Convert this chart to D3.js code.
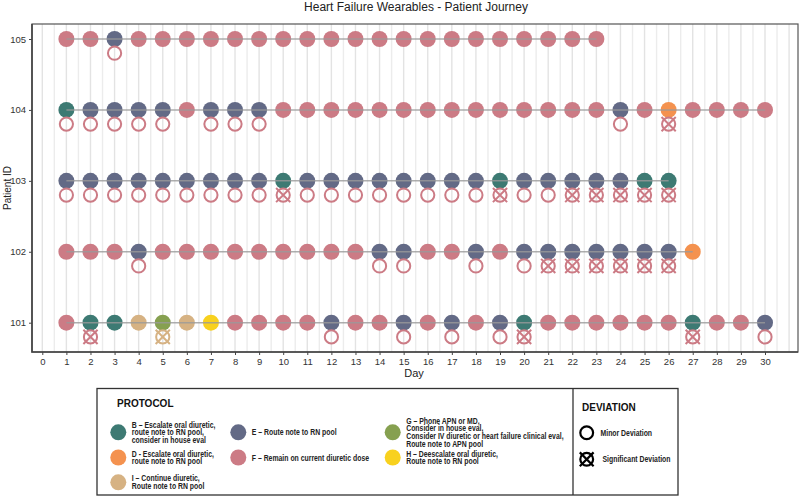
<!DOCTYPE html>
<html>
<head>
<meta charset="utf-8">
<title>Heart Failure Wearables - Patient Journey</title>
<script src="https://cdn.jsdelivr.net/npm/d3@7"></script>
<style>
	body, html{
		margin: 0;
		padding: 0;
		background: #fff;
	}
	svg text{
		font-family: "Liberation Sans", Arial, sans-serif;
	}
	.narrow{
		font-weight: bold;
		font-size: 8.3px;
		fill: #222;
	}
</style>
</head>
<body>
<svg id="chart" width="800" height="496"></svg>
<script>
// patients and days
var patients = [101, 102, 103, 104, 105];
var dayTicks = d3.range(0, 31);

// protocol per day, starting at day 1
var protocol101 = ["F","B","B","I","G","I","H","F","F","F","F","E","F","F","E","F","E","F","E","B","F","F","F","F","F","F","B","F","F","E"];
var protocol102 = ["F","F","F","E","F","F","F","F","F","F","F","F","F","E","E","F","F","E","F","E","E","E","E","E","E","E","D"];
var protocol103 = ["E","E","E","E","E","E","E","E","E","B","E","E","E","E","E","E","E","E","B","E","E","E","E","E","B","B"];
var protocol104 = ["B","E","E","E","E","F","E","E","E","F","F","F","F","F","F","F","F","F","F","F","F","F","F","E","F","D","F","F","F","F"];
var protocol105 = ["F","F","E","F","F","F","F","F","F","F","F","F","F","F","F","F","F","F","F","F","F","F","F"];

// deviation per day: o = minor, x = significant, second letter = colour group
var deviation101 = ["","xF","","","xI","","","","","","","oF","","","oF","","oF","","oF","xF","","","","","","","xF","","","oF"];
var deviation102 = ["","","","oF","","","","","","","","","","oF","oF","","","oF","","oF","xF","xF","xF","xF","xF","xF",""];
var deviation103 = ["oF","oF","oF","oF","oF","oF","oF","oF","oF","xF","oF","oF","oF","oF","oF","oF","oF","oF","xF","oF","oF","xF","xF","xF","xF","xF"];
var deviation104 = ["oF","oF","oF","oF","oF","","oF","oF","oF","","","","","","","","","","","","","","","oF","","xF","","","",""];
var deviation105 = ["","","oF","","","","","","","","","","","","","","","","","","","","","","","","","","",""];

var protocolCodes = ["B","D","I","E","F","G","H"];
var protocolColors = ["#3d7a73","#f4924f","#d6b283","#636a86","#cc7b85","#86a050","#f8d11e"];
var protocolLabels = [
	["B \u2013 Escalate oral diuretic,", "route note to RN pool,", "consider in house eval"],
	["D - Escalate oral diuretic,", "route note to RN pool"],
	["I \u2013 Continue diuretic,", "Route note to RN pool"],
	["E \u2013 Route note to RN pool"],
	["F \u2013 Remain on current diuretic dose"],
	["G \u2013 Phone APN or MD,", "Consider in house eval,", "Consider IV diuretic or heart failure clinical eval,", "Route note to APN pool"],
	["H \u2013 Deescalate oral diuretic,", "Route note to RN pool"]
];
var deviationLabels = ["Minor Deviation", "Significant Deviation"];

var protocolByPatient = {101: protocol101, 102: protocol102, 103: protocol103, 104: protocol104, 105: protocol105};
var deviationByPatient = {101: deviation101, 102: deviation102, 103: deviation103, 104: deviation104, 105: deviation105};

var svg = d3.select('#chart'),
	panel = {left: 32, right: 798, top: 24, bottom: 352},
	x = d3.scaleLinear().domain([0, 30]).range([42.3, 765]),
	y = d3.scaleLinear().domain([101, 105]).range([322.7, 39]),
	color = d3.scaleOrdinal().domain(protocolCodes).range(protocolColors);

var points = [], devs = [];
patients.forEach(function(p){
	protocolByPatient[p].forEach(function(c, i){
		points.push({id: p, day: i + 1, code: c});
	});
	deviationByPatient[p].forEach(function(c, i){
		if (c) devs.push({id: p, day: i + 1, kind: c[0], group: c[1]});
	});
});

// title
svg.append('text')
	.attr('x', 416).attr('y', 11)
	.attr('text-anchor', 'middle')
	.style('font-size', '12px')
	.attr('fill', '#222')
	.text('Heart Failure Wearables - Patient Journey');

// grid lines, majors and halves
var grid = svg.append('g');
d3.range(0, 31.01, 0.5).forEach(function(d){
	grid.append('line')
		.attr('x1', x(d)).attr('x2', x(d))
		.attr('y1', panel.top).attr('y2', panel.bottom)
		.attr('stroke', d % 1 === 0 ? '#e3e3e3' : '#ececec')
		.attr('stroke-width', 1.4);
});

var line = d3.line().x(function(d){ return x(d.day); }).y(function(d){ return y(d.id); });

// protocol dots
svg.append('g').selectAll('circle').data(points).join('circle')
	.attr('cx', function(d){ return x(d.day); })
	.attr('cy', function(d){ return y(d.id); })
	.attr('r', 8)
	.attr('fill', function(d){ return color(d.code); });

// connecting line sits over the dots
patients.forEach(function(p){
	svg.append('path')
		.datum(points.filter(function(d){ return d.id === p; }))
		.attr('d', line)
		.attr('fill', 'none')
		.attr('stroke', '#9a9a9a')
		.attr('stroke-opacity', 0.8)
		.attr('stroke-width', 1.5);
});

// deviation markers
function drawDeviation(g, kind, cx, cy, col, r, sw){
	g.append('circle')
		.attr('cx', cx).attr('cy', cy).attr('r', r)
		.attr('fill', 'none').attr('stroke', col).attr('stroke-width', sw);
	if (kind === 'x') {
		var k = r + 0.5;
		g.append('path')
			.attr('d', 'M' + (cx - k) + ',' + (cy - k) + 'L' + (cx + k) + ',' + (cy + k) +
				'M' + (cx - k) + ',' + (cy + k) + 'L' + (cx + k) + ',' + (cy - k))
			.attr('stroke', col).attr('stroke-width', sw);
	}
}
var devLayer = svg.append('g');
devs.forEach(function(d){
	drawDeviation(devLayer, d.kind, x(d.day), y(d.id - 0.2), color(d.group), 6.6, 2);
});

// panel frame
svg.append('rect')
	.attr('x', panel.left).attr('y', panel.top)
	.attr('width', panel.right - panel.left).attr('height', panel.bottom - panel.top)
	.attr('fill', 'none').attr('stroke', '#555').attr('stroke-width', 1.2);
svg.append('path')
	.attr('d', 'M' + panel.left + ',' + panel.top + 'V' + panel.bottom + 'H' + panel.right)
	.attr('fill', 'none').attr('stroke', '#444').attr('stroke-width', 1.6);

// axes
var xAxis = svg.append('g')
	.attr('transform', 'translate(0,' + panel.bottom + ')')
	.call(d3.axisBottom(x).tickValues(dayTicks).tickFormat(d3.format('d')).tickSize(3).tickPadding(3));
var yAxis = svg.append('g')
	.attr('transform', 'translate(' + panel.left + ',0)')
	.call(d3.axisLeft(y).tickValues(patients).tickFormat(d3.format('d')).tickSize(3).tickPadding(3));
[xAxis, yAxis].forEach(function(a){
	a.select('.domain').remove();
	a.selectAll('.tick line').attr('stroke', '#444');
	a.selectAll('.tick text').attr('fill', '#333').style('font-size', '9.5px')
		.style('font-family', '"Liberation Sans", Arial, sans-serif');
});

svg.append('text')
	.attr('x', 414).attr('y', 377)
	.attr('text-anchor', 'middle')
	.style('font-size', '11px').attr('fill', '#222')
	.text('Day');
svg.append('text')
	.attr('transform', 'translate(11,' + ((panel.top + panel.bottom) / 2) + ') rotate(-90)')
	.attr('text-anchor', 'middle')
	.style('font-size', '10px').attr('fill', '#222')
	.text('Patient ID');

// legend boxes
var legend = svg.append('g');
legend.append('rect')
	.attr('x', 97).attr('y', 388.5).attr('width', 581).attr('height', 106.5)
	.attr('fill', 'none').attr('stroke', '#333').attr('stroke-width', 1.3);
legend.append('line')
	.attr('x1', 573).attr('x2', 573).attr('y1', 388.5).attr('y2', 495)
	.attr('stroke', '#333').attr('stroke-width', 1.3);

legend.append('text')
	.attr('x', 117).attr('y', 407)
	.style('font-size', '10px').style('font-weight', 'bold').attr('fill', '#111')
	.text('PROTOCOL');
legend.append('text')
	.attr('x', 582).attr('y', 411)
	.style('font-size', '10px').style('font-weight', 'bold').attr('fill', '#111')
	.text('DEVIATION');

var colX = [118.3, 238.3, 392.7],
	rowY = [432.3, 457.5, 482.3],
	legendSlots = {B: [0, 0], D: [0, 1], I: [0, 2], E: [1, 0], F: [1, 1], G: [2, 0], H: [2, 1]},
	lineH = 7.8,
	squeeze = 0.83;

// condensed legend text: draw at origin, scale horizontally
function narrowText(g, tx, ty, lines){
	var t = g.append('text')
		.attr('class', 'narrow')
		.attr('transform', 'translate(' + tx + ',' + ty + ') scale(' + squeeze + ',1)');
	lines.forEach(function(l, j){
		t.append('tspan').attr('x', 0).attr('dy', j === 0 ? 0 : lineH).text(l);
	});
	return t;
}

protocolCodes.forEach(function(code, i){
	var slot = legendSlots[code],
		cx = colX[slot[0]],
		cy = rowY[slot[1]],
		lines = protocolLabels[i];
	legend.append('circle')
		.attr('cx', cx).attr('cy', cy).attr('r', 8)
		.attr('fill', color(code));
	narrowText(legend, cx + 13.5, cy - (lines.length - 1) * lineH / 2 + 3, lines);
});

var devKinds = ['o', 'x'];
devKinds.forEach(function(k, i){
	var cy = i === 0 ? 432.7 : 459.3;
	drawDeviation(legend, k, 586.7, cy, '#000', 6.4, 2.2);
	narrowText(legend, i === 0 ? 600.5 : 602.5, cy + 3, [deviationLabels[i]]);
});
</script>
</body>
</html>
